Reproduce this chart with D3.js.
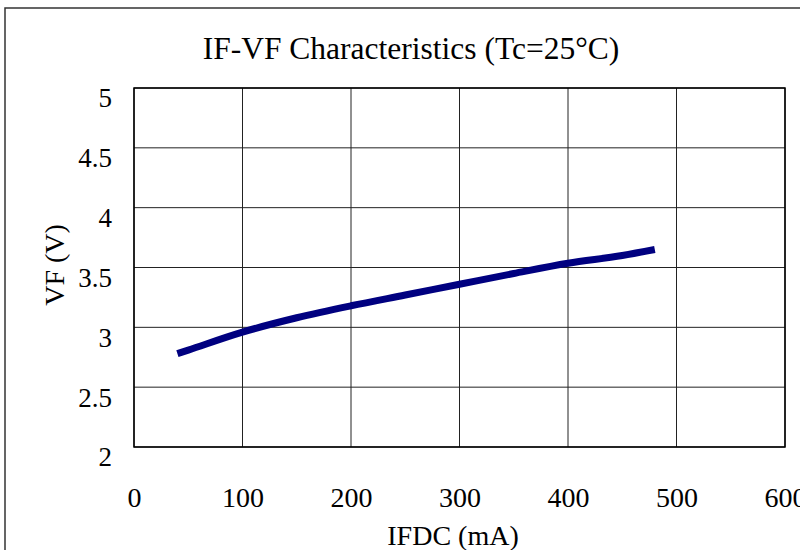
<!DOCTYPE html>
<html><head><meta charset="utf-8">
<script src="https://cdn.jsdelivr.net/npm/d3@7"></script>
<style>body{margin:0;background:#fff}svg{display:block}</style>
</head><body><svg id="c" width="800" height="550"></svg>
<script>
const title = "IF-VF Characteristics (Tc=25°C)";
const xLabel = "IFDC (mA)";
const yLabel = "VF (V)";
const xTicks = [0,100,200,300,400,500,600];
const yTicks = [2,2.5,3,3.5,4,4.5,5];
const ifValues = [40,50,100,150,200,250,300,350,400,450,480];
const vfValues = [2.78,2.81,2.96,3.08,3.18,3.27,3.36,3.45,3.535,3.60,3.65];

const svg = d3.select("#c");
const font = "'Liberation Serif', 'DejaVu Serif', serif";
const m = {l:134, r:785, t:88, b:447};
const x = d3.scaleLinear().domain([0,600]).range([m.l,m.r]);
const y = d3.scaleLinear().domain([2,5]).range([m.b,m.t]);

svg.append("rect").attr("x",5).attr("y",8).attr("width",820).attr("height",600)
  .attr("fill","#fff").attr("stroke","#333").attr("stroke-width",1.5);

const g = svg.append("g");
g.selectAll(".vg").data(xTicks).join("line")
  .attr("x1",d=>x(d)).attr("x2",d=>x(d)).attr("y1",m.t).attr("y2",m.b)
  .attr("stroke","#222").attr("stroke-width",1);
g.selectAll(".hg").data(yTicks).join("line")
  .attr("y1",d=>y(d)).attr("y2",d=>y(d)).attr("x1",m.l).attr("x2",m.r)
  .attr("stroke","#222").attr("stroke-width",1);
g.append("rect").attr("x",m.l).attr("y",m.t).attr("width",m.r-m.l).attr("height",m.b-m.t)
  .attr("fill","none").attr("stroke","#000").attr("stroke-width",1.5);

const xAxis = d3.axisBottom(x).tickValues(xTicks).tickSize(0).tickPadding(0).tickFormat(d3.format("d"));
const xa = svg.append("g").attr("transform",`translate(0,${m.b})`).call(xAxis);
xa.select(".domain").remove();
xa.selectAll("text").attr("y",60).attr("dy",0)
  .attr("font-family",font).attr("font-size",28).attr("fill","#000");

const yAxis = d3.axisLeft(y).tickValues(yTicks).tickSize(0).tickPadding(22).tickFormat(d=>String(d));
const ya = svg.append("g").attr("transform",`translate(${m.l},0)`).call(yAxis);
ya.select(".domain").remove();
ya.selectAll("text").attr("dy","0.7em")
  .attr("font-family",font).attr("font-size",27).attr("fill","#000");

const pts = ifValues.map((v,i)=>[v,vfValues[i]]);
svg.append("path").datum(pts)
  .attr("d",d3.line().x(d=>x(d[0])).y(d=>y(d[1])).curve(d3.curveMonotoneX))
  .attr("fill","none").attr("stroke","#000080").attr("stroke-width",7);

svg.append("text").attr("x",411).attr("y",59).attr("text-anchor","middle")
  .attr("font-family",font).attr("font-size",31.5).attr("fill","#000").text(title);
svg.append("text").attr("x",453).attr("y",545).attr("text-anchor","middle")
  .attr("font-family",font).attr("font-size",28).attr("fill","#000").text(xLabel);
svg.append("text").attr("transform","translate(64,265) rotate(-90)").attr("text-anchor","middle")
  .attr("font-family",font).attr("font-size",28).attr("fill","#000").text(yLabel);
</script></body></html>
